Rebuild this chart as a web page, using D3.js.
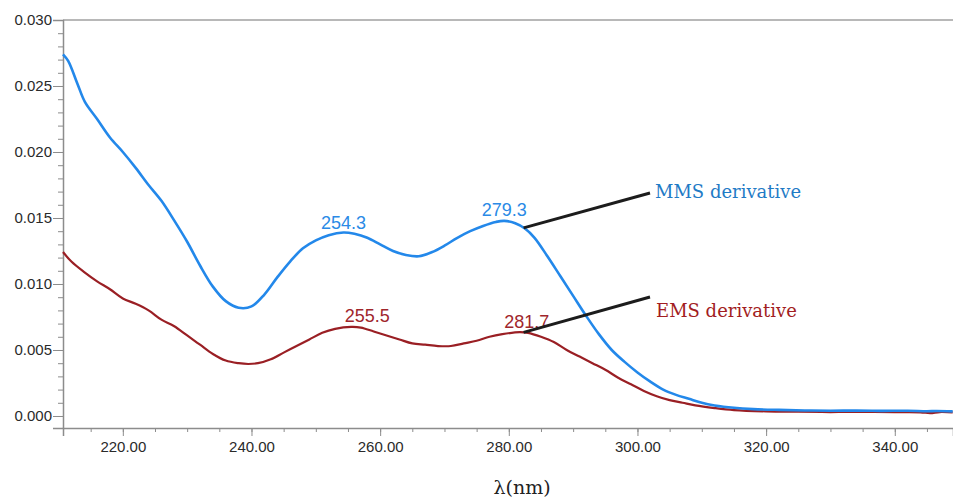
<!DOCTYPE html>
<html>
<head>
<meta charset="utf-8">
<script src="https://cdn.jsdelivr.net/npm/d3@7"></script>
<style>
  html, body { margin: 0; padding: 0; background: #fff; }
  svg { display: block; }
</style>
</head>
<body>
<svg id="chart" width="953" height="498"></svg>
<script>
// Wavelengths (nm) and absorbance readings for the two derivatives
const mmsWavelength = [210.7, 211.5, 213, 214.1, 216, 218, 220, 222, 224, 226, 228, 230, 232, 234, 236, 238, 240, 242, 244, 246, 248, 250, 252, 254.3, 256, 258, 260, 262, 264, 266, 268, 270, 272, 274, 276, 278, 279.3, 281, 282.5, 284, 286, 288, 290, 292, 294, 296, 298, 300, 302, 304, 306, 308, 310, 312, 315, 318, 322, 326, 330, 334, 338, 342, 345, 346.5, 349];
const mmsAbsorbance = [0.0274, 0.0269, 0.0251, 0.0238, 0.0225, 0.0211, 0.0200, 0.0188, 0.0175, 0.0163, 0.0148, 0.0132, 0.0114, 0.0098, 0.0087, 0.0082, 0.0083, 0.0092, 0.0105, 0.0117, 0.0127, 0.0133, 0.0137, 0.0139, 0.0138, 0.0135, 0.0130, 0.0125, 0.0122, 0.0121, 0.0124, 0.0129, 0.0135, 0.0140, 0.0144, 0.0147, 0.01478, 0.0146, 0.0142, 0.0135, 0.0121, 0.0106, 0.0091, 0.0076, 0.0062, 0.0050, 0.0041, 0.0033, 0.0026, 0.0020, 0.0016, 0.0013, 0.0010, 0.0008, 0.00062, 0.00052, 0.00046, 0.00042, 0.00040, 0.00041, 0.00039, 0.00040, 0.00036, 0.00038, 0.00035];

const emsWavelength = [210.7, 212, 214, 216, 218, 220, 222, 224, 226, 228, 230, 232, 234, 236, 238, 239.5, 241, 243, 245, 247, 249, 251, 253, 255.5, 257, 259, 261, 263, 265, 267, 269, 271, 273, 275, 277, 279, 281.7, 283, 285, 287, 289, 291, 293, 295, 297, 299, 301, 303, 305, 307, 309, 312, 315, 320, 325, 330, 335, 340, 344, 345.5, 347, 349];
const emsAbsorbance = [0.01242, 0.0117, 0.0109, 0.0102, 0.0096, 0.0089, 0.0085, 0.0080, 0.0073, 0.0068, 0.0061, 0.0054, 0.0047, 0.0042, 0.0040, 0.00394, 0.0040, 0.0043, 0.0048, 0.0053, 0.0058, 0.0063, 0.0066, 0.00675, 0.0067, 0.0064, 0.0061, 0.0058, 0.0055, 0.0054, 0.0053, 0.0053, 0.0055, 0.0057, 0.0060, 0.0062, 0.00636, 0.0063, 0.0060, 0.0056, 0.0050, 0.0045, 0.0040, 0.0035, 0.0029, 0.0024, 0.0019, 0.0015, 0.0012, 0.0010, 0.0008, 0.0006, 0.00045, 0.00035, 0.00032, 0.00030, 0.00031, 0.00029, 0.00028, 0.00022, 0.00030, 0.00027];

// Peak maxima annotated on each curve
const mmsPeaks = [254.3, 279.3];
const emsPeaks = [255.5, 281.7];

// Axis ticks
const xTicks = [220, 240, 260, 280, 300, 320, 340];
const yTicks = [0.000, 0.005, 0.010, 0.015, 0.020, 0.025, 0.030];

const seriesNames = ["MMS derivative", "EMS derivative"];

const svg = d3.select("#chart");
const W = 953, H = 498;
const plotLeft = 63, plotRight = 953, plotTop = 20, plotBottom = 428;

const x = d3.scaleLinear().domain([210.7, 349.05]).range([plotLeft, plotRight]);
const y = d3.scaleLinear().domain([-0.00091, 0.030]).range([plotBottom, plotTop]);

const axisColor = "#8c8c8c";
const tickFont = "'Liberation Sans', Arial, sans-serif";

// Top frame line
svg.append("line")
  .attr("x1", plotLeft).attr("x2", W).attr("y1", y(0.030)).attr("y2", y(0.030))
  .attr("stroke", "#a0a0a0").attr("stroke-width", 1.5);

// Y axis: minor ticks every 0.001, labelled majors every 0.005
const yMinor = d3.range(0, 0.0305, 0.001);
const yAxisMinor = d3.axisLeft(y).tickValues(yMinor).tickSize(5).tickFormat("");
svg.append("g").attr("transform", `translate(${plotLeft},0)`).call(yAxisMinor)
  .call(g => g.select(".domain").remove())
  .call(g => g.selectAll("line").attr("stroke", axisColor));

const yAxis = d3.axisLeft(y).tickValues(yTicks).tickSize(10).tickPadding(1).tickFormat(d3.format(".3f"));
svg.append("g").attr("transform", `translate(${plotLeft},0)`).call(yAxis)
  .call(g => g.select(".domain").attr("stroke", axisColor).attr("stroke-width", 1.5))
  .call(g => g.selectAll("line").attr("stroke", axisColor))
  .call(g => g.selectAll("text").attr("fill", "#2a2a2a").style("font-family", tickFont).style("font-size", "15px"));

// X axis: minor ticks every 5 nm
const xMinor = d3.range(215, 350, 5);
const xAxisMinor = d3.axisBottom(x).tickValues(xMinor).tickSize(4).tickFormat("");
svg.append("g").attr("transform", `translate(0,${plotBottom})`).call(xAxisMinor)
  .call(g => g.select(".domain").remove())
  .call(g => g.selectAll("line").attr("stroke", axisColor));

const xAxis = d3.axisBottom(x).tickValues(xTicks).tickSize(8).tickPadding(5).tickFormat(d3.format(".2f"));
svg.append("g").attr("transform", `translate(0,${plotBottom})`).call(xAxis)
  .call(g => g.select(".domain").attr("stroke", axisColor).attr("stroke-width", 1.5))
  .call(g => g.selectAll("line").attr("stroke", axisColor))
  .call(g => g.selectAll("text").attr("fill", "#2a2a2a").style("font-family", tickFont).style("font-size", "15px"));

// X axis title
svg.append("text")
  .attr("x", 522).attr("y", 494)
  .attr("text-anchor", "middle")
  .style("font-family", "'DejaVu Serif', serif").style("font-size", "19px")
  .attr("fill", "#222")
  .text("λ(nm)");

// Curves
const mmsData = mmsWavelength.map((w, i) => ({ w, v: mmsAbsorbance[i] }));
const emsData = emsWavelength.map((w, i) => ({ w, v: emsAbsorbance[i] }));

const line = d3.line().x(d => x(d.w)).y(d => y(d.v)).curve(d3.curveCatmullRom.alpha(0.5));

const mmsColor = "#2388ea";
const emsColor = "#9a1f24";

svg.append("path").datum(emsData)
  .attr("fill", "none").attr("stroke", emsColor).attr("stroke-width", 2.2)
  .attr("d", line);
svg.append("path").datum(mmsData)
  .attr("fill", "none").attr("stroke", mmsColor).attr("stroke-width", 2.6)
  .attr("d", line);

// Value at a wavelength by linear interpolation along a series
function valueAt(ws, vs, w) {
  const i = d3.bisectLeft(ws, w);
  if (i <= 0) return vs[0];
  if (i >= ws.length) return vs[vs.length - 1];
  const t = (w - ws[i - 1]) / (ws[i] - ws[i - 1]);
  return vs[i - 1] + t * (vs[i] - vs[i - 1]);
}

// Peak labels
const peakFont = "'Liberation Sans', Arial, sans-serif";
const peakLabels = [
  { w: mmsPeaks[0], v: valueAt(mmsWavelength, mmsAbsorbance, mmsPeaks[0]), color: "#2a8ae6", dx: 0, dy: -4 },
  { w: mmsPeaks[1], v: valueAt(mmsWavelength, mmsAbsorbance, mmsPeaks[1]), color: "#2a8ae6", dx: 0, dy: -5 },
  { w: emsPeaks[0], v: valueAt(emsWavelength, emsAbsorbance, emsPeaks[0]), color: "#a0262c", dx: 16, dy: -5 },
  { w: emsPeaks[1], v: valueAt(emsWavelength, emsAbsorbance, emsPeaks[1]), color: "#a0262c", dx: 7, dy: -4 }
];
svg.selectAll("text.peak").data(peakLabels).enter().append("text")
  .attr("class", "peak")
  .attr("x", d => x(d.w) + d.dx)
  .attr("y", d => y(d.v) + d.dy)
  .attr("text-anchor", "middle")
  .attr("fill", d => d.color)
  .style("font-family", peakFont).style("font-size", "18px")
  .text(d => d.w.toFixed(1));

// Leader lines and series names
const leaderAt = 282.3;
const legend = [
  { name: seriesNames[0], v: valueAt(mmsWavelength, mmsAbsorbance, leaderAt), ex: 650, ey: 193, tx: 655, ty: 198, color: "#1f7bc6" },
  { name: seriesNames[1], v: valueAt(emsWavelength, emsAbsorbance, leaderAt), ex: 650, ey: 297, tx: 656, ty: 317, color: "#a21d22" }
];
svg.selectAll("line.leader").data(legend).enter().append("line")
  .attr("class", "leader")
  .attr("x1", x(leaderAt)).attr("y1", d => y(d.v))
  .attr("x2", d => d.ex).attr("y2", d => d.ey)
  .attr("stroke", "#1c1c1c").attr("stroke-width", 3);
svg.selectAll("text.series").data(legend).enter().append("text")
  .attr("class", "series")
  .attr("x", d => d.tx).attr("y", d => d.ty)
  .attr("fill", d => d.color)
  .style("font-family", "'DejaVu Serif', serif").style("font-size", "18px")
  .text(d => d.name);
</script>
</body>
</html>
